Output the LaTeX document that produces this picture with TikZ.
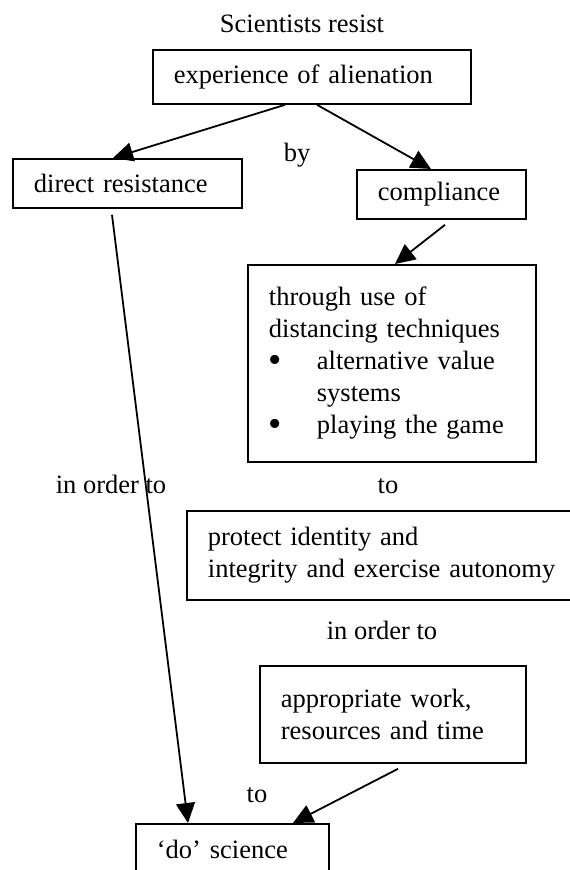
\documentclass[tikz,border=0pt]{standalone}
\usepackage{fontspec}
\setmainfont{Liberation Serif}
\usepackage{tikz}
\usetikzlibrary {arrows.meta}
\pgfmathsetmacro{\pad}{21}
\pgfmathsetmacro{\indent}{48}
\newcommand{\bigdot}{\raisebox{-2.5pt}{\fontsize{38}{32}\selectfont\textbullet}}

\begin{document}
\begin{tikzpicture}[x = 1pt, y = -1pt,
		font = \fontsize{26.5}{32}\selectfont,
		box/.style = {draw, line width = 1.8pt, anchor = north west, align = left, inner xsep = \pad pt, inner ysep = 0pt},
		lbl/.style = {anchor = base, inner sep = 0pt},
		link/.style = {line width = 1.8pt, arrows = {-Triangle[length = 20pt, width = 19pt]}}]
		\clip (0, 0) rectangle (570, 870);
		\fill[white] (0, 0) rectangle (570, 870);
		\node[lbl] (title) at (302, 32) {Scientists resist};
		\node[box, minimum width = 318pt, minimum height = 54pt, text width = 276pt] (exp) at (152, 49) {experience of alienation};
		\node[box, minimum width = 229pt, minimum height = 49pt, text width = 187pt] (direct) at (12, 158) {direct resistance};
		\node[box, minimum width = 169pt, minimum height = 49pt, text width = 127pt] (comp) at (356, 169) {compliance};
		\node[lbl] (by) at (297, 161) {by};
		\node[box, minimum width = 288pt, minimum height = 197pt, text width = 246pt] (thru) at (247, 264) {through use of\\distancing techniques\\\makebox[\indent pt][l]{\bigdot}alternative value\\\hspace*{\indent pt}systems\\\makebox[\indent pt][l]{\bigdot}playing the game};
		\node[lbl] (to1) at (388, 493) {to};
		\node[lbl] (order1) at (111, 493) {in order to};
		\node[box, minimum width = 390pt, minimum height = 89pt, text width = 348pt] (prot) at (186, 510) {protect identity and\\integrity and exercise autonomy};
		\node[lbl] (order2) at (382, 639) {in order to};
		\node[box, minimum width = 266pt, minimum height = 97pt, text width = 224pt] (appr) at (259, 665) {appropriate work,\\resources and time};
		\node[lbl] (to2) at (257, 802) {to};
		\node[box, minimum width = 193pt, minimum height = 52pt, text width = 151pt] (do) at (135, 823) {`do' science};
		% arrows
		\draw[link] ([xshift = 133pt]exp.south west) -- ([xshift = 101pt]direct.north west);
		\draw[link] ([xshift = 165pt]exp.south west) -- ([xshift = 75pt]comp.north west);
		\draw[link] ([xshift = 89pt, yshift = -5pt]comp.south west) -- ([xshift = 148pt]thru.north west);
		\draw[link] ([xshift = 100pt, yshift = -6pt]direct.south west) -- ([xshift = 53pt]do.north west);
		\draw[link] ([xshift = 139pt, yshift = -5pt]appr.south west) -- ([xshift = 158pt]do.north west);
	\end{tikzpicture}
\end{document}
